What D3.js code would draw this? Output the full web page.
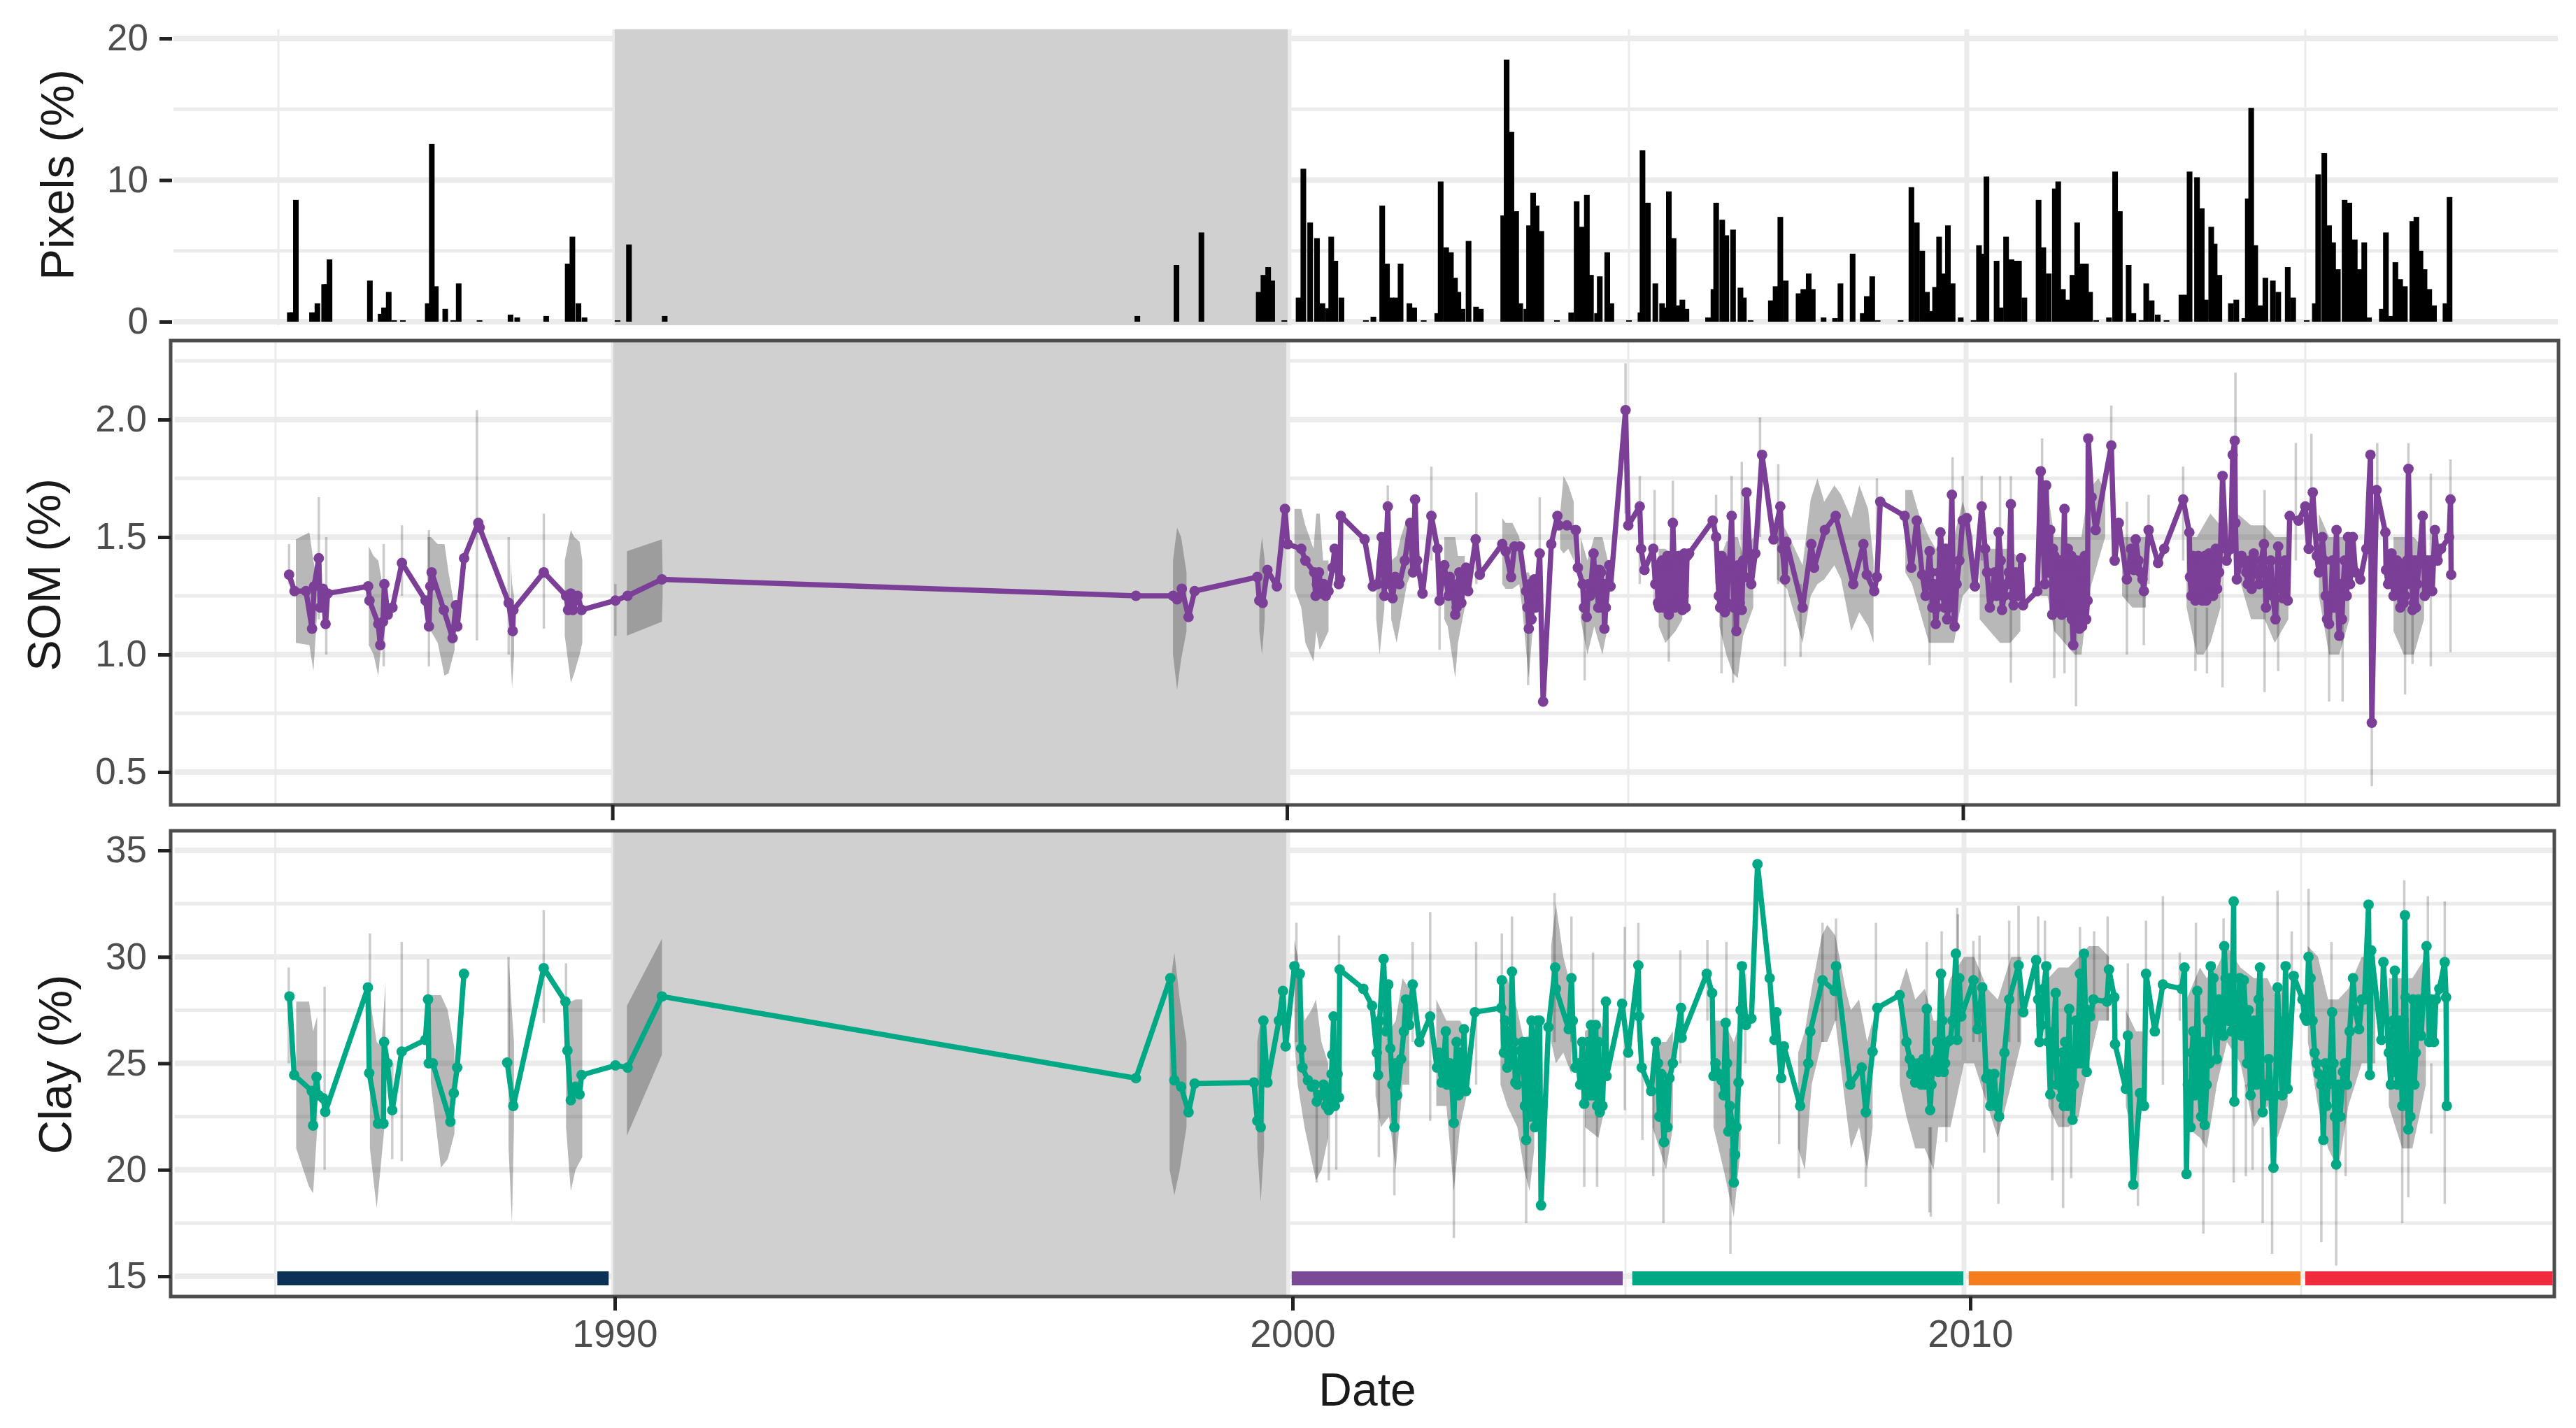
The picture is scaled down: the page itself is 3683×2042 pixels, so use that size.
<!DOCTYPE html>
<html>
<head>
<meta charset="utf-8">
<script src="https://cdn.jsdelivr.net/npm/d3@7.9.0/dist/d3.min.js"></script>
<style>
  html, body { margin: 0; padding: 0; background: #fff; }
  svg { display: block; font-family: "Liberation Sans", Arial, sans-serif; }
</style>
</head>
<body>
<svg id="chart" width="3683" height="2042"></svg>
<script>
// Values. Years are decimal.
const xTickYears = [1990, 2000, 2010];
const xGridMajor = [1990, 2000, 2010];
const xGridMinor = [1985, 2005, 2015];
const noDataStart = 1990;
const noDataEnd = 1999.98;

const pixelMajor = [0, 10, 20];
const pixelMinor = [5, 15];
const somMajor = [0.5, 1.0, 1.5, 2.0];
const somMinor = [0.75, 1.25, 1.75, 2.25];
const clayMajor = [15, 20, 25, 30, 35];
const clayMinor = [17.5, 22.5, 27.5, 32.5];

const periodStart = [1985.03, 2000.06, 2005.1, 2010.07, 2015.06];
const periodEnd = [1989.93, 2004.96, 2009.99, 2014.99, 2018.73];
const periodColors = ['#0b3157', '#7b4a97', '#00a985', '#f47d1f', '#ef2b3d'];

// [year, percent of pixels]
const pixelBars = [
  [1985.17,0.66],[1985.21,0.66],[1985.26,8.6],[1985.5,0.66],[1985.58,1.3],[1985.68,2.65],[1985.72,2.65],[1985.76,4.4],
  [1986.36,2.9],[1986.52,0.55],[1986.57,1],[1986.64,2.1],[1986.72,0.1],[1986.85,0.1],
  [1987.22,1.3],[1987.28,12.55],[1987.34,2.5],[1987.48,0.9],[1987.6,0.1],[1987.68,2.7],[1987.99,0.1],
  [1988.45,0.5],[1988.55,0.3],[1988.98,0.4],[1989.3,4.1],[1989.37,6],[1989.46,1.3],[1989.55,0.3],
  [1990.04,0.1],[1990.21,5.45],[1990.74,0.4],
  [1997.75,0.4],[1998.33,4],[1998.7,6.3],[1999.55,2.1],[1999.62,3.3],[1999.69,3.85],[1999.75,2.9],[1999.93,0.1],
  [2000.14,1.7],[2000.21,10.8],[2000.31,7],[2000.41,5.9],[2000.49,1.3],[2000.57,0.95],[2000.62,6],[2000.68,4.3],[2000.77,1.7],
  [2001.13,0.1],[2001.24,0.35],[2001.37,8.2],[2001.44,4.1],[2001.5,1.7],[2001.57,1.7],[2001.64,4.1],[2001.77,1.3],[2001.84,1],[2001.98,0.1],
  [2002.18,0.6],[2002.23,9.9],[2002.31,5.25],[2002.38,4.9],[2002.44,3.1],[2002.49,2.1],[2002.55,0.9],[2002.64,5.7],[2002.75,1.05],[2002.82,0.9],
  [2003.15,7.5],[2003.2,18.5],[2003.27,13.4],[2003.34,7.8],[2003.4,1.3],[2003.49,0.9],[2003.53,6.8],[2003.59,9.1],[2003.64,8.2],[2003.71,6.4],[2003.94,0.1],
  [2004.15,0.65],[2004.23,8.5],[2004.3,6.7],[2004.38,8.95],[2004.44,3.3],[2004.53,0.6],[2004.57,3.2],[2004.68,4.9],[2004.74,1.3],
  [2005,0.1],[2005.17,0.65],[2005.2,12.1],[2005.28,8.4],[2005.39,2.7],[2005.49,1.3],[2005.54,1],[2005.59,9.2],[2005.66,5.9],[2005.72,1.15],[2005.79,1.55],[2005.85,0.9],
  [2006.17,0.3],[2006.25,2.3],[2006.29,8.4],[2006.38,7.2],[2006.44,6.1],[2006.54,6.5],[2006.65,2.4],[2006.7,1.7],[2006.8,0.1],
  [2007.1,1.5],[2007.17,2.5],[2007.24,7.4],[2007.32,2.9],[2007.51,2],[2007.58,2.3],[2007.66,3.4],[2007.72,2.3],[2007.88,0.3],
  [2008.05,0.25],[2008.13,2.7],[2008.31,4.8],[2008.46,0.6],[2008.52,1.8],[2008.6,3.2],[2008.68,0.1],
  [2009.02,0.1],[2009.18,9.5],[2009.26,7],[2009.34,5],[2009.41,2.1],[2009.46,0.75],[2009.53,2.45],[2009.59,6],[2009.65,3.4],[2009.72,6.8],[2009.79,2.7],[2009.91,0.3],
  [2010.1,0.1],[2010.18,5.4],[2010.29,10.25],[2010.25,4.8],[2010.44,4.3],[2010.5,1],[2010.58,6],[2010.66,4.4],[2010.73,4.3],[2010.77,4.3],[2010.85,1.7],
  [2011.06,8.6],[2011.13,5.25],[2011.21,3.4],[2011.3,9.4],[2011.35,9.9],[2011.42,2.3],[2011.48,1.55],[2011.56,3.3],[2011.63,7],[2011.7,4.1],[2011.76,4.1],[2011.82,2.1],[2011.91,0.1],
  [2012.1,0.3],[2012.19,10.6],[2012.26,7.8],[2012.39,4],[2012.46,0.6],[2012.58,0.1],[2012.65,2.7],[2012.73,1.5],[2012.82,0.5],[2012.95,0.1],
  [2013.17,1.9],[2013.24,1.9],[2013.29,10.6],[2013.4,10.2],[2013.47,8],[2013.53,1.55],[2013.61,6.7],[2013.66,5.5],[2013.73,3.3],[2013.9,1.3],[2013.98,1.55],
  [2014.1,0.25],[2014.15,8.7],[2014.2,15.1],[2014.26,5.4],[2014.33,1.15],[2014.41,3.1],[2014.52,2.9],[2014.6,2.1],[2014.74,3.85],[2014.82,1.7],
  [2015.02,0.1],[2015.14,1.3],[2015.19,10.4],[2015.28,11.9],[2015.35,6.8],[2015.41,5.6],[2015.48,3.7],[2015.58,8.6],[2015.65,8.4],[2015.73,5.8],[2015.8,3.7],[2015.87,5.6],[2015.94,0.3],
  [2016.13,0.9],[2016.19,6.3],[2016.27,0.4],[2016.33,4.2],[2016.4,3],[2016.47,2.5],[2016.58,7.1],[2016.64,7.4],[2016.7,5],[2016.76,3.7],[2016.83,2.3],[2016.9,1.15],
  [2017.07,1.3],[2017.13,8.8]
];

// [year, SOM %]
const somPoints = [
  [1985.2,1.34],[1985.28,1.27],[1985.45,1.27],[1985.54,1.11],[1985.57,1.29],[1985.64,1.41],[1985.66,1.2],[1985.7,1.28],[1985.74,1.13],[1985.77,1.26],
  [1986.37,1.29],[1986.39,1.23],[1986.52,1.13],[1986.55,1.04],[1986.59,1.14],[1986.61,1.3],[1986.66,1.17],[1986.73,1.2],[1986.87,1.39],
  [1987.22,1.23],[1987.27,1.12],[1987.29,1.29],[1987.31,1.35],[1987.49,1.19],[1987.62,1.07],[1987.67,1.21],[1987.69,1.12],[1987.79,1.41],
  [1988,1.56],[1988.02,1.54],[1988.45,1.22],[1988.51,1.1],[1988.52,1.19],[1988.97,1.35],
  [1989.3,1.25],[1989.33,1.19],[1989.37,1.26],[1989.4,1.19],[1989.47,1.25],[1989.53,1.19],
  [1990.03,1.23],[1990.21,1.25],[1990.72,1.32],
  [1997.75,1.25],[1998.3,1.25],[1998.36,1.235],[1998.43,1.28],[1998.53,1.16],[1998.62,1.27],
  [1999.55,1.33],[1999.58,1.23],[1999.63,1.22],[1999.7,1.36],[1999.84,1.29],[1999.96,1.62],
  [2000,1.47],[2000.2,1.45],[2000.26,1.4],[2000.39,1.35],[2000.41,1.25],[2000.46,1.35],[2000.56,1.25],[2000.6,1.27],[2000.66,1.37],[2000.69,1.45],[2000.75,1.3],[2000.77,1.32],[2000.78,1.59],
  [2001.13,1.49],[2001.25,1.29],[2001.32,1.3],[2001.38,1.5],[2001.42,1.25],[2001.47,1.63],[2001.5,1.3],[2001.54,1.24],[2001.58,1.33],[2001.64,1.3],[2001.72,1.4],[2001.8,1.56],[2001.84,1.35],[2001.87,1.66],[2001.9,1.4],[2001.98,1.26],
  [2002.11,1.59],[2002.2,1.45],[2002.23,1.23],[2002.3,1.38],[2002.38,1.33],[2002.46,1.17],[2002.5,1.3],[2002.55,1.22],[2002.62,1.37],[2002.65,1.27],[2002.76,1.49],[2002.82,1.34],
  [2003.15,1.47],[2003.2,1.44],[2003.28,1.33],[2003.33,1.46],[2003.41,1.46],[2003.5,1.27],[2003.54,1.11],[2003.6,1.25],[2003.7,1.43],[2003.75,0.8],[2003.87,1.47],[2003.96,1.59],[2003.98,1.55],
  [2004.1,1.55],[2004.23,1.53],[2004.26,1.37],[2004.33,1.3],[2004.39,1.16],[2004.42,1.3],[2004.49,1.43],[2004.52,1.27],[2004.58,1.36],[2004.62,1.2],[2004.65,1.11],[2004.7,1.3],[2004.72,1.38],[2004.74,1.29],[2004.96,2.04],
  [2005,1.55],[2005.17,1.63],[2005.19,1.45],[2005.24,1.36],[2005.37,1.45],[2005.4,1.3],[2005.44,1.22],[2005.48,1.32],[2005.52,1.2],[2005.56,1.38],[2005.6,1.17],[2005.63,1.38],[2005.66,1.56],[2005.69,1.2],[2005.73,1.4],[2005.76,1.22],[2005.8,1.19],[2005.83,1.43],[2005.9,1.43],
  [2006.25,1.57],[2006.3,1.5],[2006.34,1.25],[2006.38,1.42],[2006.43,1.18],[2006.48,1.35],[2006.53,1.59],[2006.56,1.2],[2006.6,1.1],[2006.63,1.38],[2006.68,1.19],[2006.72,1.33],[2006.75,1.69],[2006.82,1.3],[2006.88,1.43],[2006.98,1.85],
  [2007.15,1.49],[2007.25,1.63],[2007.28,1.45],[2007.32,1.32],[2007.34,1.48],[2007.58,1.2],[2007.71,1.47],[2007.75,1.37],[2007.91,1.53],
  [2008.07,1.59],[2008.33,1.3],[2008.48,1.47],[2008.53,1.34],[2008.64,1.27],[2008.68,1.33],[2008.73,1.65],
  [2009.09,1.59],[2009.19,1.37],[2009.27,1.57],[2009.35,1.34],[2009.4,1.25],[2009.46,1.44],[2009.5,1.2],[2009.55,1.13],[2009.62,1.52],[2009.66,1.25],[2009.7,1.45],[2009.74,1.2],[2009.79,1.68],[2009.83,1.12],[2009.95,1.57],
  [2010.01,1.58],[2010.13,1.29],[2010.23,1.63],[2010.28,1.45],[2010.35,1.2],[2010.42,1.35],[2010.48,1.52],[2010.53,1.19],[2010.6,1.3],[2010.66,1.64],[2010.7,1.21],[2010.81,1.41],[2010.84,1.21],
  [2011.05,1.27],[2011.1,1.78],[2011.14,1.45],[2011.18,1.72],[2011.21,1.35],[2011.24,1.53],[2011.27,1.17],[2011.3,1.42],[2011.34,1.2],[2011.38,1.4],[2011.41,1.17],[2011.45,1.62],[2011.48,1.18],[2011.5,1.45],[2011.53,1.2],[2011.55,1.42],[2011.58,1.04],[2011.61,1.35],[2011.64,1.15],[2011.67,1.11],[2011.7,1.4],[2011.73,1.2],[2011.75,1.42],[2011.79,1.23],[2011.8,1.92],[2011.85,1.67],[2011.91,1.53],
  [2012.14,1.89],[2012.19,1.4],[2012.25,1.56],[2012.37,1.32],[2012.43,1.45],[2012.5,1.49],[2012.57,1.35],[2012.62,1.27],[2012.69,1.53],[2012.83,1.39],[2012.92,1.45],
  [2013.2,1.66],[2013.29,1.52],[2013.3,1.33],[2013.34,1.42],[2013.38,1.23],[2013.42,1.42],[2013.46,1.24],[2013.5,1.4],[2013.54,1.23],[2013.58,1.43],[2013.62,1.3],[2013.68,1.45],[2013.73,1.35],[2013.78,1.76],[2013.84,1.4],[2013.9,1.45],[2013.93,1.85],[2013.96,1.91],[2013.97,1.56],[2013.99,1.32],
  [2014.06,1.42],[2014.13,1.35],[2014.21,1.28],[2014.24,1.43],[2014.32,1.3],[2014.39,1.47],[2014.42,1.2],[2014.49,1.4],[2014.56,1.15],[2014.6,1.46],[2014.67,1.24],[2014.74,1.23],[2014.77,1.59],[2014.9,1.57],
  [2015,1.63],[2015.05,1.45],[2015.11,1.69],[2015.17,1.42],[2015.25,1.5],[2015.3,1.25],[2015.35,1.13],[2015.4,1.4],[2015.46,1.53],[2015.5,1.08],[2015.56,1.3],[2015.63,1.5],[2015.7,1.5],[2015.81,1.32],[2015.9,1.45],[2015.96,1.85],[2015.98,0.71],
  [2016.05,1.7],[2016.18,1.52],[2016.19,1.36],[2016.27,1.43],[2016.33,1.4],[2016.38,1.27],[2016.45,1.22],[2016.52,1.79],[2016.55,1.3],[2016.58,1.19],[2016.62,1.4],[2016.65,1.3],[2016.73,1.59],[2016.78,1.38],[2016.87,1.27],[2016.91,1.53],[2017.12,1.5],[2017.14,1.66],[2017.15,1.34]
];

// crowded dates where the line reads as a solid zigzag
const somCrowded = [
  [2000.43,1.3],[2000.5,1.26],[2000.53,1.3],
  [2002.36,1.25],[2002.42,1.3],[2002.48,1.2],[2002.52,1.35],[2002.58,1.3],
  [2003.52,1.2],[2003.56,1.3],[2003.58,1.15],[2003.62,1.32],[2003.64,1.2],
  [2004.35,1.2],[2004.44,1.25],[2004.54,1.36],[2004.56,1.2],[2004.6,1.35],[2004.64,1.3],[2004.67,1.2],
  [2005.42,1.38],[2005.46,1.2],[2005.5,1.4],[2005.54,1.22],[2005.58,1.42],[2005.62,1.2],[2005.65,1.42],[2005.68,1.38],[2005.71,1.22],[2005.75,1.42],[2005.78,1.2],[2005.82,1.25],[2005.85,1.2],[2005.87,1.42],
  [2006.36,1.2],[2006.4,1.38],[2006.46,1.22],[2006.5,1.4],[2006.58,1.35],[2006.65,1.22],[2006.7,1.4],
  [2009.42,1.3],[2009.48,1.35],[2009.52,1.3],[2009.57,1.2],[2009.6,1.35],[2009.64,1.45],[2009.68,1.2],[2009.72,1.15],[2009.76,1.4],[2009.81,1.25],[2009.86,1.3],[2009.9,1.4],
  [2010.31,1.35],[2010.38,1.25],[2010.45,1.25],[2010.51,1.4],[2010.56,1.25],[2010.63,1.35],[2010.68,1.25],[2010.73,1.35],[2010.77,1.25],
  [2011.16,1.3],[2011.26,1.35],[2011.28,1.45],[2011.32,1.2],[2011.36,1.38],[2011.39,1.25],[2011.43,1.38],[2011.46,1.2],[2011.52,1.38],[2011.56,1.15],[2011.59,1.35],[2011.63,1.4],[2011.66,1.15],[2011.69,1.3],[2011.71,1.12],[2011.74,1.35],[2011.77,1.15],
  [2012.4,1.37],[2012.47,1.36],[2012.54,1.4],[2012.6,1.32],
  [2013.32,1.25],[2013.36,1.4],[2013.4,1.25],[2013.44,1.4],[2013.48,1.23],[2013.52,1.42],[2013.56,1.25],[2013.6,1.4],[2013.64,1.25],[2013.66,1.42],[2013.7,1.28],[2013.75,1.45],
  [2014.15,1.3],[2014.18,1.4],[2014.27,1.36],[2014.35,1.4],[2014.45,1.3],[2014.52,1.25],[2014.63,1.3],[2014.7,1.4],
  [2015.2,1.35],[2015.28,1.4],[2015.32,1.15],[2015.38,1.25],[2015.42,1.2],[2015.44,1.4],[2015.48,1.2],[2015.52,1.3],[2015.54,1.15],[2015.58,1.4],[2015.61,1.25],[2015.66,1.3],[2015.74,1.35],
  [2016.22,1.3],[2016.25,1.4],[2016.3,1.25],[2016.35,1.4],[2016.4,1.2],[2016.43,1.38],[2016.47,1.25],[2016.5,1.4],[2016.57,1.4],[2016.6,1.22],[2016.63,1.2],[2016.68,1.4],[2016.76,1.25],[2016.8,1.4],[2016.83,1.3],[2016.85,1.4],[2016.95,1.4],[2017,1.45]
];

// [year, low, high], a null pair breaks the ribbon
const somBand = [
  [1985.3,1.05,1.49],[1985.5,1.04,1.52],[1985.56,0.93,1.4],[1985.62,1.2,1.3],[1985.63,null,null],
  [1986.38,1.04,1.46],[1986.45,1.0,1.42],[1986.52,0.91,1.4],[1986.58,1.1,1.3],[1986.59,null,null],
  [1987.25,1.15,1.5],[1987.3,1.1,1.5],[1987.4,1.05,1.47],[1987.5,0.91,1.47],[1987.56,0.92,1.35],[1987.65,1.02,1.2],[1987.66,null,null],
  [1988.48,0.98,1.4],[1988.5,0.86,1.3],[1988.53,1.0,1.25],[1988.54,null,null],
  [1989.28,1.08,1.4],[1989.37,0.88,1.53],[1989.42,0.92,1.5],[1989.5,1.0,1.48],[1989.54,1.05,1.4],[1989.55,null,null],
  [1990.2,1.08,1.44],[1990.72,1.14,1.49],[1990.73,1.25,1.35],[1990.74,null,null],
  [1998.3,1.0,1.4],[1998.36,0.85,1.54],[1998.42,0.98,1.5],[1998.5,1.1,1.35],[1998.51,null,null],
  [1999.58,1.1,1.4],[1999.62,1.0,1.5],[1999.66,1.15,1.4],[1999.67,null,null],
  [2000.1,1.28,1.62],[2000.2,1.2,1.62],[2000.26,1.05,1.55],[2000.38,0.97,1.45],[2000.42,1.1,1.6],[2000.47,1.02,1.6],[2000.52,1.05,1.4],[2000.6,1.1,1.4],[2000.61,null,null],
  [2001.3,1.15,1.4],[2001.35,1.0,1.42],[2001.42,1.2,1.4],[2001.43,null,null],
  [2001.52,1.15,1.4],[2001.6,1.05,1.42],[2001.66,1.15,1.5],[2001.75,1.3,1.58],[2001.82,1.35,1.55],[2001.83,null,null],
  [2002.3,1.15,1.5],[2002.35,1.12,1.5],[2002.46,0.9,1.5],[2002.5,1.05,1.42],[2002.6,1.2,1.42],[2002.61,null,null],
  [2003.15,1.3,1.58],[2003.2,1.28,1.56],[2003.3,1.28,1.56],[2003.4,1.3,1.5],[2003.45,1.18,1.4],[2003.5,1.02,1.35],[2003.54,0.9,1.35],[2003.6,1.12,1.3],[2003.61,null,null],
  [2004,1.45,1.6],[2004.05,1.43,1.76],[2004.12,1.45,1.72],[2004.2,1.4,1.65],[2004.21,null,null],
  [2004.3,1.15,1.5],[2004.4,1.0,1.4],[2004.5,1.12,1.5],[2004.62,1.0,1.5],[2004.7,1.12,1.4],[2004.71,null,null],
  [2005.45,1.12,1.45],[2005.55,1.05,1.45],[2005.7,1.1,1.4],[2005.8,1.15,1.35],[2005.81,null,null],
  [2006.35,1.12,1.4],[2006.45,1.0,1.48],[2006.55,0.92,1.5],[2006.62,0.9,1.5],[2006.7,1.08,1.42],[2006.85,1.2,1.5],[2006.86,null,null],
  [2007.2,1.32,1.6],[2007.35,1.28,1.52],[2007.58,1.05,1.38],[2007.7,1.25,1.66],[2007.8,1.3,1.75],[2007.9,1.32,1.65],[2008.05,1.38,1.72],[2008.15,1.32,1.68],[2008.3,1.1,1.58],[2008.42,1.18,1.72],[2008.55,1.12,1.62],[2008.63,1.05,1.4],[2008.64,null,null],
  [2009.1,1.35,1.7],[2009.2,1.3,1.7],[2009.3,1.2,1.6],[2009.45,1.05,1.5],[2009.55,1.05,1.45],[2009.7,1.05,1.45],[2009.82,1.05,1.5],[2009.95,1.25,1.65],[2010.1,1.3,1.5],[2010.11,null,null],
  [2010.2,1.15,1.45],[2010.35,1.1,1.45],[2010.5,1.05,1.45],[2010.65,1.05,1.45],[2010.8,1.1,1.4],[2010.81,null,null],
  [2011.1,1.25,1.75],[2011.2,1.25,1.7],[2011.3,1.1,1.5],[2011.45,1.05,1.5],[2011.6,1.0,1.5],[2011.7,1.0,1.5],[2011.8,1.25,1.7],[2011.95,1.4,1.75],[2012.05,1.5,1.7],[2012.06,null,null],
  [2012.3,1.25,1.5],[2012.45,1.2,1.5],[2012.65,1.2,1.5],[2012.66,null,null],
  [2013.25,1.2,1.5],[2013.4,1.0,1.5],[2013.5,1.0,1.55],[2013.6,1.05,1.6],[2013.75,1.2,1.55],[2013.76,null,null],
  [2014,1.35,1.6],[2014.2,1.15,1.55],[2014.4,1.15,1.55],[2014.55,1.05,1.5],[2014.75,1.15,1.5],[2014.76,null,null],
  [2015.2,1.25,1.6],[2015.35,1.0,1.5],[2015.5,1.0,1.5],[2015.65,1.15,1.5],[2015.66,null,null],
  [2016.3,1.1,1.5],[2016.45,1.0,1.5],[2016.6,1.0,1.5],[2016.75,1.15,1.45]
];

// thin one-date ribbon spikes: [year, low, high]
const somSpikes = [
  [1985.2,1.3,1.47],[1985.64,1.15,1.67],[1985.75,1.0,1.5],[1986.6,0.95,1.47],[1986.87,1.25,1.55],[1987.27,0.95,1.53],[1987.98,1.06,2.04],[1988.45,1.0,1.5],[1988.97,1.11,1.6],[1990.03,1.08,1.3],
  [2001.47,1.4,1.72],[2002.11,1.4,1.8],[2002.23,1.02,1.4],[2002.77,1.3,1.69],[2003.7,1.2,1.67],[2004.36,0.89,1.2],[2003.53,0.87,1.2],[2004.96,1.6,2.24],[2005.17,1.3,1.76],[2005.39,1.2,1.7],[2005.66,1.3,1.74],[2005.6,0.97,1.3],
  [2006.3,1.3,1.68],[2006.38,0.92,1.3],[2006.53,1.3,1.76],[2006.55,0.88,1.2],[2006.68,1.3,1.82],[2006.95,1.5,2.01],[2007.22,1.3,1.81],[2007.32,0.95,1.3],[2007.55,0.99,1.3],[2008.68,1.4,1.75],[2009.46,0.955,1.3],[2009.8,1.4,1.84],
  [2009.95,1.4,1.76],[2010.23,1.4,1.76],[2010.5,1.3,1.76],[2010.66,0.88,1.76],[2011.12,1.5,1.92],[2011.3,0.9,1.2],[2011.45,0.92,1.2],[2011.62,0.78,1.2],[2012.14,1.7,2.06],[2012.37,1.0,1.65],[2012.62,1.04,1.3],[2012.69,1.3,1.68],[2013.2,1.4,1.8],
  [2013.38,0.93,1.2],[2013.55,0.92,1.2],[2013.78,0.86,1.7],[2013.97,1.7,2.2],[2014.4,0.84,1.7],[2014.6,0.93,1.3],[2014.86,1.4,1.9],[2015.09,1.5,1.94],[2015.35,0.8,1.2],[2015.55,0.8,1.2],[2015.98,0.44,0.9],[2016.06,1.5,1.9],[2016.47,0.83,1.2],[2016.52,1.6,1.9],[2016.58,0.96,1.2],[2016.85,0.95,1.77],[2017.14,1.01,1.83]
];

// [year, clay %], null = gap in the line
const clayPoints = [
  [1985.21,28.14],[1985.28,24.45],[1985.54,23.7],[1985.56,22.08],[1985.61,24.36],[1985.64,23.5],[1985.71,23.36],[1985.74,22.72],
  [1986.37,28.56],[1986.39,24.54],[1986.52,22.17],[1986.6,22.17],[1986.61,26],[1986.66,25],[1986.73,22.8],[1986.87,25.55],
  [1987.22,26.1],[1987.26,28],[1987.27,25],[1987.33,25],[1987.59,22.26],[1987.64,23.6],[1987.69,24.8],[1987.79,29.2],[1988.1,null],
  [1988.43,25.03],[1988.52,23],[1988.97,29.47],[1989.29,27.9],[1989.32,25.6],[1989.37,23.27],[1989.44,23.9],[1989.5,23.54],[1989.53,24.45],
  [1990.03,24.9],[1990.21,24.8],[1990.72,28.14],
  [1997.75,24.3],[1998.26,29],[1998.32,24.2],[1998.42,23.9],[1998.53,22.7],[1998.62,24.05],
  [1999.5,24.1],[1999.55,22.3],[1999.6,22],[1999.64,27],[1999.7,24.1],[1999.87,27],[1999.93,28.4],[1999.97,25.8],
  [2000.1,29.56],[2000.18,29.2],[2000.2,25.7],[2000.22,24.8],[2000.36,23.9],[2000.46,23.5],[2000.61,22.8],[2000.66,25.4],[2000.68,27.2],[2000.74,24.5],[2000.76,23.4],[2000.77,29.4],
  [2001.12,28.5],[2001.25,27.7],[2001.32,25.5],[2001.34,24.45],[2001.42,29.9],[2001.49,28.7],[2001.52,25.7],[2001.58,22],[2001.68,25.2],[2001.75,28],[2001.8,26.8],[2001.85,28.7],[2001.95,26],
  [2002.11,27.2],[2002.21,24.8],[2002.28,24.1],[2002.34,26.5],[2002.46,22.2],[2002.61,26.6],[2002.64,23.7],[2002.77,27.4],
  [2003.16,27.6],[2003.17,28.9],[2003.2,25.5],[2003.32,29.3],[2003.37,24.1],[2003.45,25.6],[2003.53,21.4],[2003.61,27],[2003.66,22],[2003.73,27],[2003.75,18.33],[2003.86,26.7],[2003.96,29.5],[2003.97,28.5],
  [2004.16,26.6],[2004.2,29],[2004.26,24.8],[2004.39,23.1],[2004.49,26.8],[2004.52,23.5],[2004.56,26.8],[2004.62,22.7],[2004.71,27.9],[2004.72,24.4],[2004.95,27.8],
  [2005.04,25.5],[2005.19,29.6],[2005.2,27.2],[2005.24,24.8],[2005.38,23.7],[2005.45,26],[2005.57,21.3],[2005.65,24.3],[2005.82,27.6],[2005.83,26.2],
  [2006.2,29.2],[2006.28,28.3],[2006.3,24.4],[2006.48,26.9],[2006.52,21.8],[2006.6,19.4],[2006.62,20.7],[2006.67,24.1],[2006.72,29.56],[2006.78,26.8],[2006.86,27.1],[2006.95,34.35],
  [2007.13,29],[2007.2,26.1],[2007.23,27.4],[2007.3,24.3],[2007.34,25.8],[2007.58,23],[2007.7,25],[2007.73,26.5],[2007.91,28.9],
  [2008.09,28.4],[2008.11,29.56],[2008.32,24],[2008.49,24.8],[2008.55,22.7],[2008.65,25.55],[2008.72,27.6],
  [2009.05,28.2],[2009.2,25.2],[2009.28,24.1],[2009.45,27.55],[2009.5,22.8],[2009.58,25.2],[2009.66,29.2],[2009.7,24.6],[2009.8,26.1],[2009.88,30.15],[2009.9,26.1],[2009.96,27.2],
  [2010.14,28.9],[2010.2,26.6],[2010.27,28.56],[2010.33,24.3],[2010.42,23.9],[2010.52,22.5],[2010.6,25.5],[2010.67,28],[2010.81,29.6],[2010.88,27.4],
  [2011.07,29.84],[2011.15,26.8],[2011.22,29.56],[2011.28,23.54],[2011.36,28.3],[2011.41,24],[2011.44,23.4],[2011.5,26],[2011.56,27.55],[2011.58,23.5],[2011.61,22.35],[2011.66,27],[2011.72,29.2],[2011.78,30.15],[2011.82,24.6],[2011.87,27.2],
  [2012.12,27.9],[2012.15,29.4],[2012.23,28.1],[2012.24,25.9],[2012.4,23.8],[2012.43,26.3],[2012.51,19.3],[2012.61,23.6],[2012.67,23],[2012.7,29.2],[2012.83,26.5],[2012.95,28.7],
  [2013.23,28.5],[2013.27,29.5],[2013.3,19.8],[2013.34,23.8],[2013.4,26.5],[2013.44,24.6],[2013.46,28.4],[2013.5,23.5],[2013.57,22.1],[2013.62,27],[2013.66,29.56],[2013.75,25.2],[2013.85,26.3],[2013.86,30.5],[2014,32.6],[2014.01,23.2],
  [2014.12,26.3],[2014.15,28.9],[2014.25,23.5],[2014.39,29.5],[2014.43,22.7],[2014.52,25.2],[2014.59,20.1],[2014.65,28.56],[2014.7,24.6],[2014.77,29.56],[2014.8,23.8],[2014.89,29.1],
  [2015.05,27.2],[2015.11,30],[2015.2,25.5],[2015.33,21.4],[2015.4,24],[2015.46,27.4],[2015.52,20.25],[2015.62,24.6],[2015.77,29],[2015.86,26.6],[2016,32.45],[2016.02,24.45],[2016.04,30.3],
  [2016.19,26.1],[2016.22,29.75],[2016.3,25.5],[2016.38,24.6],[2016.39,29.35],[2016.54,31.95],[2016.55,28.1],[2016.59,21.9],[2016.7,25.5],[2016.78,26.3],[2016.86,30.5],[2016.97,26],[2017.05,28.5],[2017.13,29.75],[2017.15,28.1],[2017.16,23]
];

const clayCrowded = [
  [2000.3,24.2],[2000.4,24],[2000.43,23.2],[2000.5,23.5],[2000.53,24],[2000.57,23],[2000.59,23.8],[2000.63,23.5],[2000.65,24.5],[2000.7,23],
  [2001.36,27],[2001.46,26.5],[2001.55,24],[2001.6,25],[2001.62,23.5],[2001.72,26.5],
  [2002.24,25.5],[2002.3,24.5],[2002.36,24],[2002.4,25],[2002.43,24],[2002.48,24.5],[2002.5,26],[2002.53,23.5],[2002.56,25.5],[2002.59,24],
  [2003.22,27],[2003.25,24.8],[2003.28,26.5],[2003.3,25],[2003.35,26],[2003.4,24],[2003.48,26],[2003.51,23],[2003.55,26],[2003.58,22.5],[2003.63,26],[2003.68,24],[2003.7,27],
  [2004.22,27],[2004.3,25],[2004.33,24],[2004.36,26],[2004.42,24],[2004.45,26],[2004.47,23.5],[2004.5,24.5],[2004.54,25],[2004.58,23],[2004.6,26],[2004.64,24.5],[2004.66,23],
  [2005.48,25],[2005.5,22.5],[2005.53,24.5],[2005.55,22.5],[2005.6,24],[2005.62,22],[2005.7,25],
  [2006.33,25],[2006.38,24.5],[2006.42,24.2],[2006.45,23.5],[2006.5,25],[2006.54,23],[2006.58,22],[2006.64,22],[2006.7,27.5],
  [2009.15,26],[2009.22,24.5],[2009.25,25],[2009.3,24.5],[2009.33,25],[2009.37,24],[2009.4,25.2],[2009.42,24],[2009.47,24.5],[2009.52,24],[2009.54,25],[2009.6,26],[2009.62,24.6],[2009.68,27],[2009.72,25],[2009.76,26],[2009.83,27],[2009.93,29],
  [2010.36,24.5],[2010.39,23],[2010.45,24.5],[2010.48,23],
  [2011.1,28],[2011.12,26],[2011.18,28.5],[2011.25,26],[2011.3,25],[2011.33,26.5],[2011.38,24],[2011.46,25.5],[2011.48,23],[2011.52,25],[2011.54,23],[2011.6,25],[2011.63,24],[2011.68,25],[2011.7,27],[2011.74,25],[2011.76,26.5],[2011.8,27.5],[2011.84,27.5],[2011.92,28],
  [2013.32,24],[2013.36,22],[2013.38,25.5],[2013.42,23.5],[2013.48,26],[2013.52,22.5],[2013.54,26],[2013.6,24],[2013.64,25],[2013.68,27],[2013.7,29],[2013.72,26.5],[2013.78,28],[2013.82,27],[2013.88,29],[2013.92,27],[2013.95,29],[2013.97,26.5],
  [2014.03,28],[2014.06,26.5],[2014.09,29],[2014.18,27],[2014.2,25],[2014.22,27.5],[2014.28,24],[2014.3,27],[2014.34,24],[2014.37,28],[2014.46,24],[2014.5,23.5],[2014.55,24],[2014.62,23.5],[2014.68,26],[2014.72,23.5],[2014.75,27],
  [2015.02,28],[2015.08,27],[2015.14,29],[2015.17,27],[2015.23,25],[2015.26,24.5],[2015.3,24],[2015.36,25],[2015.38,23],[2015.43,25],[2015.48,25],[2015.5,22.5],[2015.55,24],[2015.58,22.5],[2015.65,25],[2015.68,24],[2015.72,26.5],[2015.8,27.5],[2015.9,28],[2015.94,28],
  [2016.33,24],[2016.36,27],[2016.43,24],[2016.46,27],[2016.5,23],[2016.52,27],[2016.57,24],[2016.62,22.5],[2016.66,28],[2016.68,24],[2016.74,28],[2016.81,28],[2016.9,26],[2016.93,28],[2017,28]
];

const clayBand = [
  [1985.31,21,27.9],[1985.5,19.2,27.9],[1985.56,18.9,26.5],[1985.62,21.9,27.2],[1985.63,null,null],
  [1986.4,21,28],[1986.5,18.2,26],[1986.57,20.5,25.8],[1986.63,22.5,28.8],[1986.64,null,null],
  [1987.3,24.1,28.2],[1987.45,20.1,28.2],[1987.55,20.5,27.5],[1987.65,21.7,25.7],[1987.66,null,null],
  [1988.45,21,30],[1988.5,17.5,27.4],[1988.53,22,26],[1988.54,null,null],
  [1989.3,22,28],[1989.37,19,27.9],[1989.44,20,28],[1989.54,20.6,28],[1989.55,null,null],
  [1990.2,21.6,27.7],[1990.72,25.4,30.85],[1990.73,null,null],
  [1998.25,20,28.5],[1998.32,18.8,30.2],[1998.4,20,28],[1998.5,22,26],[1998.51,null,null],
  [1999.55,21,26],[1999.6,18.5,27],[1999.65,21,26],[1999.66,null,null],
  [2000.1,26,30.8],[2000.15,24,30],[2000.25,22,27],[2000.35,20.5,27.5],[2000.42,19.5,28],[2000.5,20,26],[2000.6,21.5,25],[2000.61,null,null],
  [2001.3,23.5,27],[2001.38,22,27],[2001.5,22.5,26.5],[2001.6,20,27],[2001.7,24,29],[2001.8,24,28.5],[2001.81,null,null],
  [2002.2,23,28],[2002.35,23,27],[2002.46,19,27],[2002.55,22,27],[2002.65,23.5,26.5],[2002.66,null,null],
  [2003.15,24,28],[2003.25,23,29],[2003.4,22,27.5],[2003.5,20,26],[2003.58,19,25.5],[2003.65,21,26],[2003.66,null,null],
  [2003.9,26,30.5],[2003.97,25,32.5],[2004.08,25.5,30],[2004.2,24.5,28.5],[2004.21,null,null],
  [2004.4,22,26.5],[2004.6,21.5,27],[2004.7,23,26.5],[2004.71,null,null],
  [2005.4,22,26],[2005.6,20,26],[2005.7,22,26.5],[2005.71,null,null],
  [2006.3,22,27],[2006.45,20,27],[2006.6,17.8,26],[2006.7,21,27],[2006.71,null,null],
  [2007.55,21,25.5],[2007.65,20,26.5],[2007.75,24,28.5],[2007.9,26,31],[2007.98,26,31.5],[2008.1,27,31],[2008.25,23,28.5],[2008.33,21,27.5],[2008.45,22,28],[2008.57,20,26],[2008.65,22,27],[2008.66,null,null],
  [2009.05,24,28.5],[2009.15,22.5,29.5],[2009.28,21,28],[2009.42,21,28.5],[2009.55,20,27],[2009.62,22,27],[2009.8,22,29],[2010,25,30],[2010.15,25,30],[2010.35,23,28.5],[2010.5,21.5,28],[2010.7,24,30],[2010.85,26,30],[2010.86,null,null],
  [2011.25,23,29],[2011.4,22,29.5],[2011.55,22,29.5],[2011.7,22.5,30],[2011.85,25,30.5],[2012,27,30.5],[2012.15,27,30],[2012.16,null,null],
  [2012.4,23,27.5],[2012.55,21,26.5],[2012.65,23,26.5],[2012.66,null,null],
  [2013.3,22,28],[2013.5,21.5,29.5],[2013.6,21,29],[2013.75,24,29.5],[2013.9,26,30.5],[2014.1,25,29.5],[2014.3,22,29],[2014.5,23,29],[2014.65,21.5,28],[2014.8,23,29],[2014.81,null,null],
  [2015.1,26,30.5],[2015.25,23,30],[2015.4,21,28],[2015.55,20,28],[2015.7,23,28.5],[2015.9,25,30],[2016.1,25,30],[2016.11,null,null],
  [2016.3,23,29],[2016.5,21,29],[2016.65,21,29],[2016.85,24,30]
];

const claySpikes = [
  [1985.2,25,29.5],[1985.73,20,28.6],[1986.4,25,31.1],[1986.73,20.5,25],[1986.87,20.4,30.7],[1987.26,25,29.9],[1988.45,24,30],[1988.97,26.9,32.2],[1989.3,26,29.7],
  [2000.13,26,31.6],[2000.43,19.4,24],[2000.61,19.5,24],[2000.72,20,25],[2000.76,26,31],[2001.35,20.6,25],[2001.58,18.8,23],[2001.85,26,30.7],[2002.11,22.3,32.1],[2002.46,16.8,22],[2002.79,24,30.7],
  [2003.17,26,31.1],[2003.32,26,31.9],[2003.53,17.5,22],[2003.95,26,33],[2004.2,26,31.9],[2004.39,19.2,23],[2004.52,24,30.2],[2004.58,19.2,23],[2004.99,22.8,31.4],[2005.19,26,31.6],[2005.25,21.4,25],
  [2005.41,19.7,24],[2005.56,17.5,22],[2005.81,25,30.3],[2006.21,27,30.8],[2006.49,24,30.7],[2006.55,16.05,21],[2006.77,25,29.2],[2007.27,21.2,25],[2007.56,19.6,23],[2007.91,26,31.6],[2008.11,27,31.8],
  [2008.7,26,31.6],[2008.55,19.2,23],[2009.51,17.8,22],[2009.45,25,30.7],[2009.67,26,31.2],[2009.9,27,32.3],
  [2009.49,18,22],[2009.74,21.3,25],[2009.91,27,32],[2010.14,26,30.75],[2010.23,26,31],[2010.3,20.8,25],[2010.51,18.4,23],[2010.67,26,31.7],[2010.81,26,32.4],[2011.1,26,31.9],[2011.2,26,31.7],[2011.31,19.5,24],[2011.47,18.2,23],[2011.59,19.6,23],
  [2011.72,27,31.4],[2011.93,27,31.2],[2012.13,27,31.9],[2012.43,24,29.7],[2012.58,18.3,23],[2012.7,26,31.7],[2012.95,24,32.85],[2013.2,27,30.2],[2013.44,25,31.6],[2013.55,17,23],[2013.85,27,31.8],[2014,19.4,24],
  [2014.18,19.7,24],[2014.28,20,24],[2014.43,17.5,22],[2014.57,16.05,22],[2014.65,27,33.1],[2014.86,26,31.2],[2015.11,27,33.2],[2015.3,16.6,22],[2015.45,25,30.7],[2015.52,15.5,21],[2015.66,19.7,24],
  [2016.5,17.5,23],[2016.53,28,33.6],[2016.59,18.7,23],[2016.88,27,32.85],[2016.93,21.7,25],[2017.13,18.4,32.6]
];

const svg = d3.select('#chart');

const grey = '#4d4d4d';
const gridColor = '#ebebeb';

// The source figure is slightly warped, so x is piecewise per panel
const xYears = [1985, 1990, 2000, 2005, 2010, 2015];
const xPixels = d3.scaleLinear().domain(xYears).range([398, 879, 1843, 2329, 2812, 3296]);
const xSom = d3.scaleLinear().domain(xYears).range([394, 877, 1841, 2328, 2811, 3296]);
const xClay = d3.scaleLinear().domain(xYears).range([393.5, 877, 1841, 2324, 2808, 3290]);

const ySom = d3.scaleLinear().domain([0.5, 2]).range([1104, 600]);
const yClay = d3.scaleLinear().domain([15, 35]).range([1825, 1216]);
const yPixels = d3.scaleLinear().domain([0, 20]).range([460, 55]);

const panels = [
  { x: xPixels, y: yPixels, left: 242, right: 3660, top: 42, bottom: 465, major: pixelMajor, minor: pixelMinor },
  { x: xSom, y: ySom, left: 244, right: 3658, top: 487, bottom: 1151, major: somMajor, minor: somMinor, border: true },
  { x: xClay, y: yClay, left: 244, right: 3652, top: 1188, bottom: 1854, major: clayMajor, minor: clayMinor, border: true }
];

// grid + no-data block under everything else
function drawBackground(p) {
  const g = svg.append('g');
  g.selectAll('line.ymin').data(p.minor).join('line')
    .attr('x1', p.left + 6).attr('x2', p.right - 3)
    .attr('y1', d => p.y(d)).attr('y2', d => p.y(d))
    .attr('stroke', gridColor).attr('stroke-width', 5);
  g.selectAll('line.ymaj').data(p.major).join('line')
    .attr('x1', p.left + 6).attr('x2', p.right - 3)
    .attr('y1', d => p.y(d)).attr('y2', d => p.y(d))
    .attr('stroke', gridColor).attr('stroke-width', 8);
  g.selectAll('line.xmin').data(xGridMinor).join('line')
    .attr('x1', d => p.x(d)).attr('x2', d => p.x(d))
    .attr('y1', p.top).attr('y2', p.bottom)
    .attr('stroke', gridColor).attr('stroke-width', 3);
  g.selectAll('line.xmaj').data(xGridMajor).join('line')
    .attr('x1', d => p.x(d)).attr('x2', d => p.x(d))
    .attr('y1', p.top).attr('y2', p.bottom)
    .attr('stroke', gridColor).attr('stroke-width', 7);
  g.append('rect')
    .attr('x', p.x(noDataStart))
    .attr('width', p.x(noDataEnd) - p.x(noDataStart))
    .attr('y', p.top).attr('height', p.bottom - p.top)
    .attr('fill', '#d0d0d0');
}

panels.forEach(drawBackground);

// top panel bars, one month wide
svg.append('g').selectAll('rect').data(pixelBars).join('rect')
  .attr('x', d => xPixels(d[0]) - 4)
  .attr('width', d => xPixels(d[0] + 1 / 12) - xPixels(d[0]))
  .attr('y', d => yPixels(d[1]))
  .attr('height', d => yPixels(0) - yPixels(d[1]))
  .attr('fill', '#000');

function drawSeries(x, y, band, spikes, points, color) {
  const area = d3.area()
    .defined(d => d[1] !== null)
    .x(d => x(d[0]))
    .y0(d => y(d[1]))
    .y1(d => y(d[2]));
  svg.append('path').attr('d', area(band))
    .attr('fill', '#555').attr('fill-opacity', 0.42);

  svg.append('g').selectAll('line').data(spikes).join('line')
    .attr('x1', d => x(d[0])).attr('x2', d => x(d[0]))
    .attr('y1', d => y(d[1])).attr('y2', d => y(d[2]))
    .attr('stroke', '#000').attr('stroke-opacity', 0.2).attr('stroke-width', 3.5);

  const line = d3.line()
    .defined(d => d[1] !== null)
    .x(d => x(d[0]))
    .y(d => y(d[1]));
  svg.append('path').attr('d', line(points))
    .attr('fill', 'none').attr('stroke', color)
    .attr('stroke-width', 7.5).attr('stroke-linejoin', 'round');

  svg.append('g').selectAll('circle').data(points.filter(d => d[1] !== null)).join('circle')
    .attr('cx', d => x(d[0])).attr('cy', d => y(d[1]))
    .attr('r', 7.5).attr('fill', color);
}

const byYear = (a, b) => a[0] - b[0];
drawSeries(xSom, ySom, somBand, somSpikes, somPoints.concat(somCrowded).sort(byYear), '#7b3f98');
drawSeries(xClay, yClay, clayBand, claySpikes, clayPoints.concat(clayCrowded).sort(byYear), '#00a985');

// 5-year period strips along the bottom of the clay panel
svg.append('g').selectAll('rect').data(periodStart).join('rect')
  .attr('x', d => xClay(d))
  .attr('width', (d, i) => xClay(periodEnd[i]) - xClay(d))
  .attr('y', yClay(15) - 7).attr('height', 20)
  .attr('fill', (d, i) => periodColors[i]);

panels.filter(p => p.border).forEach(p => {
  svg.append('rect')
    .attr('x', p.left).attr('y', p.top)
    .attr('width', p.right - p.left).attr('height', p.bottom - p.top)
    .attr('fill', 'none').attr('stroke', grey).attr('stroke-width', 5);
});

function styleAxis(g, size) {
  g.select('.domain').remove();
  g.selectAll('.tick line').attr('stroke', '#222').attr('stroke-width', 5);
  g.selectAll('.tick text').attr('fill', grey).style('font-size', size + 'px')
    .style('font-family', '"Liberation Sans", Arial, sans-serif');
}

function drawYAxis(scale, xPos, ticks, fmt) {
  const axis = d3.axisLeft(scale).tickValues(ticks).tickSize(18).tickPadding(16).tickFormat(fmt);
  svg.append('g').attr('transform', `translate(${xPos},0)`).call(axis).call(styleAxis, 53);
}

drawYAxis(yPixels, 246, pixelMajor, d3.format('d'));
drawYAxis(ySom, 244, somMajor, d3.format('.1f'));
drawYAxis(yClay, 244, clayMajor, d3.format('d'));

// tick marks sit a little off the gridlines in the source, hence their own scales
const somTickX = d3.scaleLinear().domain(xTickYears).range([875.6, 1840, 2806.5]);
const clayTickX = d3.scaleLinear().domain(xTickYears).range([879, 1848, 2817]);

svg.append('g').attr('transform', 'translate(0,1151)')
  .call(d3.axisBottom(somTickX).tickValues(xTickYears).tickSize(22).tickFormat(''))
  .call(styleAxis, 50);
svg.append('g').attr('transform', 'translate(0,1854)')
  .call(d3.axisBottom(clayTickX).tickValues(xTickYears).tickSize(20).tickPadding(13).tickFormat(d3.format('d')))
  .call(styleAxis, 55);

const titles = [
  { text: 'Pixels (%)', x: 105, y: 250 },
  { text: 'SOM (%)', x: 86, y: 822 },
  { text: 'Clay (%)', x: 102, y: 1522 }
];
svg.append('g').selectAll('text').data(titles).join('text')
  .attr('transform', d => `translate(${d.x},${d.y}) rotate(-90)`)
  .attr('text-anchor', 'middle')
  .attr('font-size', 67)
  .attr('fill', '#1a1a1a')
  .text(d => d.text);

svg.append('text')
  .attr('x', 1955).attr('y', 2010)
  .attr('text-anchor', 'middle')
  .attr('font-size', 66)
  .attr('fill', '#1a1a1a')
  .text('Date');
</script>
</body>
</html>
